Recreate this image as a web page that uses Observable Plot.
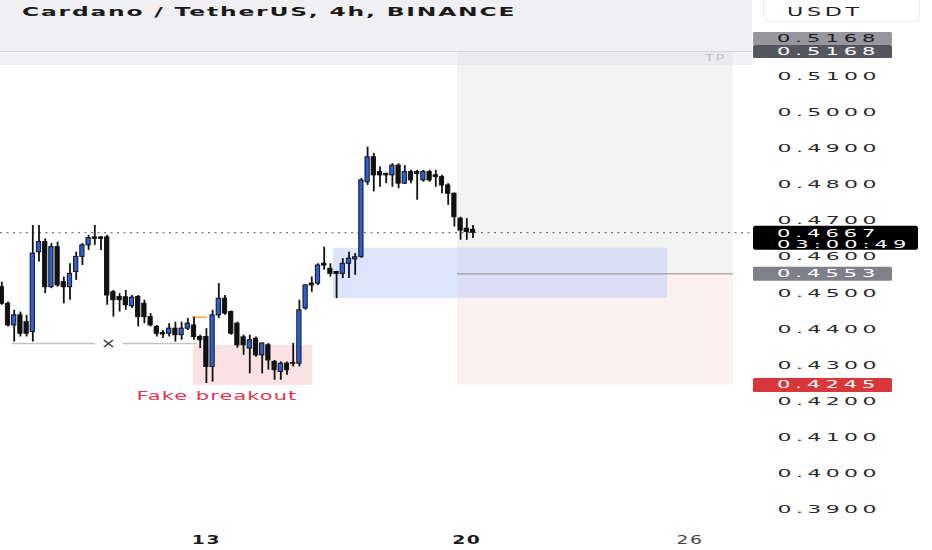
<!DOCTYPE html>
<html><head><meta charset="utf-8">
<script src="https://cdn.jsdelivr.net/npm/d3@7"></script>
<script src="https://cdn.jsdelivr.net/npm/@observablehq/plot@0.6"></script>
<style>
html,body{margin:0;padding:0;background:#fff;}
#wrap{position:relative;width:932px;height:550px;overflow:hidden;font-family:"DejaVu Sans",sans-serif;}
#chart{position:absolute;left:0;top:0;}
#hdr{position:absolute;left:0;top:0;width:752px;height:51px;background:#f0f0f2;border-bottom:1px solid #d6d6d9;}
#hdr2{position:absolute;left:0;top:52px;width:752px;height:13px;background:rgba(226,226,230,0.45);}
#title{position:absolute;left:22px;top:4px;font-weight:bold;font-size:13px;letter-spacing:1px;color:#1a1a1a;transform:scaleX(1.8);transform-origin:0 0;white-space:nowrap;}
#usdt{position:absolute;left:763px;top:-6px;width:157px;height:28px;border:1px solid #ececee;border-radius:6px;box-sizing:border-box;}
#usdtTxt{position:absolute;left:787px;top:5px;font-size:12px;letter-spacing:2px;color:#222;transform:scaleX(1.85);transform-origin:0 0;white-space:nowrap;}
</style></head>
<body>
<div id="wrap">
  <div id="chart"></div>
  <div id="hdr"><div id="title">Cardano / TetherUS, 4h, BINANCE</div></div>
  <div id="hdr2"></div>
  <div id="usdt"></div>
  <div id="usdtTxt">USDT</div>
</div>
<script>
// ---- data (ADA/USDT 4h candles) ----
const opens  = [0.4516,0.4470,0.4410,0.4438,0.4419,0.4392,0.4613,0.4641,0.4516,0.4627,0.4530,0.4516,0.4558,0.4600,0.4632,0.4654,0.4654,0.4654,0.4502,0.4489,
                0.4488,0.4463,0.4489,0.4470,0.4433,0.4406,0.4389,0.4387,0.4401,0.4383,0.4401,0.4410,0.4378,0.4378,0.4295,0.4438,0.4484,0.4447,0.4415,0.4377,
                0.4346,0.4373,0.4327,0.4355,0.4309,0.4281,0.4304,0.4306,0.4304,0.4457,0.4526,0.4526,0.4581,0.4567,0.4558,0.4553,0.4581,0.4593,0.4600,0.4807,
                0.4876,0.4835,0.4830,0.4826,0.4853,0.4803,0.4835,0.4835,0.4812,0.4835,0.4826,0.4821,0.4798,0.4775,0.4706,0.4678,0.4675];
const highs  = [0.4530,0.4475,0.4452,0.4447,0.4438,0.4687,0.4687,0.4650,0.4637,0.4641,0.4544,0.4581,0.4613,0.4637,0.4660,0.4687,0.4656,0.4660,0.4507,0.4498,
                0.4507,0.4493,0.4493,0.4480,0.4443,0.4410,0.4396,0.4415,0.4419,0.4419,0.4429,0.4433,0.4383,0.4401,0.4452,0.4526,0.4493,0.4450,0.4419,0.4383,
                0.4383,0.4378,0.4361,0.4360,0.4313,0.4309,0.4309,0.4360,0.4480,0.4522,0.4544,0.4581,0.4627,0.4581,0.4560,0.4595,0.4613,0.4609,0.4817,0.4904,
                0.4887,0.4849,0.4832,0.4858,0.4858,0.4853,0.4840,0.4840,0.4840,0.4840,0.4840,0.4826,0.4803,0.4777,0.4710,0.4706,0.4687];
const lows   = [0.4466,0.4406,0.4364,0.4378,0.4378,0.4364,0.4586,0.4498,0.4512,0.4516,0.4470,0.4480,0.4535,0.4576,0.4618,0.4632,0.4618,0.4466,0.4433,0.4447,
                0.4452,0.4457,0.4406,0.4415,0.4406,0.4378,0.4374,0.4378,0.4364,0.4369,0.4396,0.4369,0.4346,0.4249,0.4253,0.4429,0.4438,0.4383,0.4347,0.4327,
                0.4276,0.4322,0.4276,0.4286,0.4258,0.4258,0.4272,0.4295,0.4295,0.4452,0.4502,0.4521,0.4563,0.4544,0.4484,0.4540,0.4540,0.4549,0.4596,0.4798,
                0.4780,0.4793,0.4803,0.4793,0.4789,0.4801,0.4803,0.4757,0.4807,0.4807,0.4793,0.4775,0.4743,0.4683,0.4646,0.4646,0.4651];
const closes = [0.4470,0.4410,0.4438,0.4387,0.4387,0.4609,0.4641,0.4516,0.4627,0.4521,0.4516,0.4553,0.4600,0.4632,0.4652,0.4650,0.4650,0.4493,0.4480,0.4480,
                0.4466,0.4487,0.4433,0.4433,0.4410,0.4387,0.4385,0.4401,0.4383,0.4401,0.4415,0.4378,0.4369,0.4295,0.4438,0.4484,0.4443,0.4387,0.4355,0.4355,
                0.4369,0.4327,0.4360,0.4313,0.4286,0.4304,0.4286,0.4304,0.4452,0.4521,0.4521,0.4576,0.4576,0.4553,0.4553,0.4581,0.4595,0.4599,0.4812,0.4876,
                0.4826,0.4826,0.4826,0.4853,0.4803,0.4835,0.4812,0.4830,0.4835,0.4812,0.4821,0.4798,0.4775,0.4710,0.4673,0.4669,0.4667];
const firstCandle = "2022-09-07T12:00:00Z";   // 4h bars
const yTicks = [0.39,0.40,0.41,0.42,0.43,0.44,0.45,0.46,0.47,0.48,0.49,0.50,0.51];
const dayTicks = ["2022-09-13","2022-09-20","2022-09-26"];
const dayLabels = ["13","20","26"];
const tpPrice = 0.5168, entryPrice = 0.4553, stopPrice = 0.4245, lastPrice = 0.4667;
const countdown = "03:00:49";
const obTop = 0.4624, obBottom = 0.4485;           // blue zone
const fakeTop = 0.4355, fakeBottom = 0.4244;       // fake breakout zone
const supportPrice = 0.4360, orangePrice = 0.4433;

// ---- helpers ----
const T0 = Date.parse(firstCandle), BAR = 4 * 3600e3;
const at = i => new Date(T0 + i * BAR);
const candles = opens.map((o, i) => ({i, t: at(i), o, h: highs[i], l: lows[i], c: closes[i]}));
const BLUE = "#2d60d4", INK = "#111";
const dayMap = new Map(dayTicks.map((d, i) => [Date.parse(d + "T00:00:00Z"), dayLabels[i]]));

const chart = Plot.plot({
  width: 932, height: 550,
  marginLeft: 0, marginRight: 182, marginTop: 0, marginBottom: 30,
  style: {fontFamily: "DejaVu Sans", fontSize: "11px", color: "#2a2a2a", background: "transparent", overflow: "visible"},
  x: {type: "utc", domain: [at(-0.21), at(120.76)]},
  y: {domain: [0.38694, 0.53106]},
  marks: [
    // long position tool
    Plot.rect([{}], {x1: at(73.5), x2: at(118.0), y1: entryPrice, y2: tpPrice, fill: "#f3f3f4"}),
    Plot.rect([{}], {x1: at(73.5), x2: at(118.0), y1: stopPrice, y2: entryPrice, fill: "#fdf0f0"}),
    // zones
    Plot.rect([{}], {x1: at(53.5), x2: at(107.4), y1: obBottom, y2: obTop, fill: "#bfcff7", fillOpacity: 0.55}),
    Plot.rect([{}], {x1: at(30.9), x2: at(50.1), y1: fakeBottom, y2: fakeTop, fill: "#f7c8c8", fillOpacity: 0.5}),
    Plot.ruleY([entryPrice], {x1: at(73.5), x2: at(118.0), stroke: "#8a8a8a", strokeWidth: 1}),
    // support line with gap and cross
    Plot.ruleY([supportPrice], {x1: at(1.7), x2: at(15.1), stroke: "#c4c4c4", strokeWidth: 1.5}),
    Plot.ruleY([supportPrice], {x1: at(19.6), x2: at(31.6), stroke: "#c4c4c4", strokeWidth: 1.5}),
    Plot.text(["×"], {x: at(17.2), y: supportPrice, fontSize: 14, fill: "#333"}),
    Plot.ruleY([orangePrice], {x1: at(30.8), x2: at(33.2), stroke: "#f2a93b", strokeWidth: 1.5}),
    // last price dotted line
    Plot.ruleY([lastPrice], {stroke: "#555", strokeWidth: 1, strokeDasharray: "2,4.5"}),
    // candles
    Plot.ruleX(candles, {x: "t", y1: "l", y2: "h", stroke: INK, strokeWidth: 1.8}),
    Plot.rect(candles, {x1: d => at(d.i - 0.34), x2: d => at(d.i + 0.34), y1: "o", y2: "c",
      fill: d => d.c > d.o ? BLUE : INK, stroke: INK, strokeWidth: 1}),
    // labels
    Plot.text(["Fake breakout"], {x: at(34.7), y: fakeBottom, dy: 11, fill: "#e3344c", fontSize: 12}),
    Plot.text(["TP"], {x: at(115.1), y: tpPrice, dy: 6, fill: "#a0a0a0", fontSize: 9}),
    // axes
    Plot.axisY(yTicks, {anchor: "right", tickSize: 0, tickPadding: 27, tickFormat: d => d.toFixed(4), label: null}),
    Plot.axisX(dayTicks.map(d => new Date(d + "T00:00:00Z")), {tickSize: 0, tickPadding: 15,
      tickFormat: d => dayMap.get(+d), label: null, fontSize: 12.5})
  ]
});
document.getElementById("chart").appendChild(chart);

const svg = d3.select(chart);
function stretch(sel, s) {
  sel.each(function () {
    const t = this.getAttribute("transform");
    if (t) this.setAttribute("transform", t + ` scale(${s},1)`);
    else {
      const x = +this.getAttribute("x") || 0, y = +this.getAttribute("y") || 0;
      this.removeAttribute("x"); this.removeAttribute("y");
      this.setAttribute("transform", `translate(${x},${y}) scale(${s},1)`);
    }
  });
}
const byText = s => svg.selectAll("text").filter(function () { return this.textContent === s; });
const yTxt = svg.selectAll('g[aria-label="y-axis tick label"] text').style("letter-spacing", "2.2px").attr("fill", "#2a2a2a");
stretch(yTxt, 2.0);
const xTxt = svg.selectAll('g[aria-label="x-axis tick label"] text')
  .style("font-weight", function () { return this.textContent === "26" ? "normal" : "bold"; })
  .attr("fill", function () { return this.textContent === "26" ? "#444" : "#1a1a1a"; })
  .style("letter-spacing", "1px");
stretch(xTxt, 1.5);
stretch(byText("Fake breakout").style("letter-spacing", "0.6px"), 1.75);
stretch(byText("TP").style("letter-spacing", "1px"), 1.6);
stretch(byText("×"), 1.3);

// price badges on the right scale
const ys = chart.scale("y");
const g = svg.append("g").attr("font-family", "DejaVu Sans").attr("font-size", 10.5).attr("text-anchor", "start");
function badge(price, offset, bg, fg, w, h, lines, rx, shift) {
  const y = ys.apply(price) + offset;
  g.append("rect").attr("x", 753).attr("y", y - 6.5).attr("width", w).attr("height", h).attr("rx", rx).attr("fill", bg);
  lines.forEach((txt, k) => {
    const t = g.append("text").attr("x", 777).attr("y", y + shift + k * 11.3).attr("dy", "0.36em")
      .attr("text-anchor", "start").attr("fill", fg).style("letter-spacing", "2.5px").text(txt);
    stretch(t, 2.0);
  });
}
badge(tpPrice, -13, "#96969c", "#1e1e1e", 139, 13, [tpPrice.toFixed(4)], 1.5, 0);
badge(tpPrice, 0, "#56565e", "#fff", 139, 13, [tpPrice.toFixed(4)], 1.5, 0);
badge(lastPrice, 0, "#000", "#fff", 165, 24, [lastPrice.toFixed(4), countdown], 2.5, 0.7);
badge(entryPrice, 0, "#808088", "#fff", 139, 14, [entryPrice.toFixed(4)], 1.5, 0);
badge(stopPrice, 0, "#d8383a", "#fff", 139, 14, [stopPrice.toFixed(4)], 1.5, 0);
</script>
</body></html>
